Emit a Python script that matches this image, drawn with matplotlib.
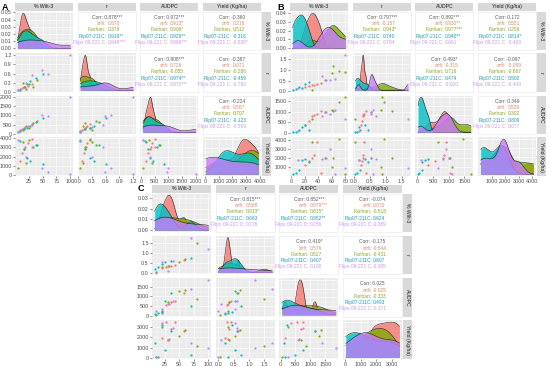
import numpy as np
import matplotlib
matplotlib.use("Agg")
import matplotlib.pyplot as plt

plt.rcParams['font.family'] = ['Liberation Sans', 'DejaVu Sans']

groups = ["arifi", "Fanhan", "Flip07-211C", "Flips 09-221 C"]
fill_colors = ['#F8766D', '#7CAE00', '#00BFC4', '#C77CFF']
text_colors = ['#D98C6A', '#8AA528', '#1A9CB0', '#C898EE']
var_names = ["% Wilt-3", "r", "AUDPC", "Yield (Kg/ha)"]
n_per_group = 6

# ---- panel A data (6 points per group, in group order) ----
A_wilt = [10, 13, 16, 19, 24, 30,   6, 14, 20, 26, 32, 40,
          10, 16, 22, 28, 38, 50,   5, 20, 30, 49, 60, 100]
A_r = [0.08, 0.12, 0.15, 0.17, 0.20, 0.26,   0.05, 0.30, 0.10, 0.25, 0.15, 0.40,
       0.05, 0.15, 0.25, 0.35, 0.45, 0.60,   0.05, 0.30, 0.55, 0.71, 0.58, 1.20]
A_audpc = [180, 260, 330, 360, 420, 520,   80, 200, 420, 300, 600, 700,
           150, 250, 320, 450, 650, 850,   80, 350, 500, 1000, 950, 2000]
A_yield = [1500, 2400, 2800, 3000, 3500, 3900,   700, 3600, 1300, 3800, 3100, 3300,
           3700, 2800, 1800, 1500, 3300, 1200,   3800, 1900, 3100, 700, 300, 50]
A_ticks = [[25, 50, 75, 100], [0.0, 0.3, 0.6, 0.9, 1.2],
           [0, 500, 1000, 1500, 2000], [0, 1000, 2000, 3000, 4000]]
A_tick_labels = [["25", "50", "75", "100"], ["0.0", "0.3", "0.6", "0.9", "1.2"],
                 ["0", "500", "1000", "1500", "2000"], ["0", "1000", "2000", "3000", "4000"]]
A_dens_ticks = [0.00, 0.01, 0.02, 0.03, 0.04, 0.05]
# pairs in order (1,2) (1,3) (1,4) (2,3) (2,4) (3,4)
A_corr_total = ["0.878***", "0.972***", "-0.360", "0.808***", "-0.367", "-0.224"]
A_corr_arifi = ["0.870", "0.913*", "0.218", "0.726", "0.071", "0.587"]
A_corr_fanhan = ["0.376", "0.906*", "0.512", "-0.055", "-0.286", "0.707"]
A_corr_flip07 = ["0.919**", "0.929**", "-0.316", "0.974**", "-0.459", "-0.123"]
A_corr_flips = ["0.948***", "0.986***", "-0.838*", "0.970***", "-0.792", "-0.569"]

# ---- panel B data ----
B_wilt = [20, 26, 30, 34, 38, 44,   30, 50, 60, 62, 70, 80,
          2, 7, 12, 16, 20, 26,   10, 45, 52, 58, 65, 80]
B_r = [0.22, 0.26, 0.30, 0.29, 0.33, 0.38,   0.05, 0.55, 0.85, 1.20, 0.95, 0.90,
       0.05, 0.10, 0.20, 0.15, 0.35, 0.45,   0.15, 0.70, 0.55, 0.55, 0.60, 1.70]
B_audpc = [350, 550, 800, 850, 900, 1050,   650, 1000, 1100, 1050, 1450, 1700,
           20, 50, 150, 250, 350, 150,   100, 800, 1000, 900, 1100, 650]
B_yield = [1200, 1700, 2000, 2400, 3800, 300,   3800, 2000, 1000, 2000, 4100, 200,
           200, 300, 700, 1800, 1900, 1600,   1800, 1900, 2000, 3000, 200, 900]
B_ticks = [[0, 20, 40, 60, 80], [0.0, 0.5, 1.0, 1.5],
           [0, 500, 1000, 1500], [0, 1000, 2000, 3000, 4000]]
B_tick_labels = [["0", "20", "40", "60", "80"], ["0.0", "0.5", "1.0", "1.5"],
                 ["0", "500", "1000", "1500"], ["0", "1000", "2000", "3000", "4000"]]
B_dens_ticks = [0.00, 0.01, 0.02, 0.03, 0.04]
B_corr_total = ["0.797***", "0.892***", "0.172", "0.493*", "-0.097", "0.349"]
B_corr_arifi = ["-0.157", "0.930**", "0.551", "-0.315", "-0.059", "0.539"]
B_corr_fanhan = ["0.943*", "0.977***", "0.256", "0.716", "-0.667", "0.302"]
B_corr_flip07 = ["0.740", "0.940**", "0.814*", "0.474", "0.502", "0.809"]
B_corr_flips = ["0.794", "0.661", "-0.463", "-0.020", "-0.443", "0.077"]

# ---- panel C data ----
C_wilt = [20, 27, 32, 36, 42, 58,   10, 20, 30, 50, 60, 80,
          8, 14, 20, 26, 36, 70,   10, 20, 30, 40, 70, 100]
C_r = [0.22, 0.28, 0.31, 0.34, 0.40, 0.65,   0.05, 0.30, 0.35, 0.55, 0.70, 1.50,
       0.20, 0.30, 0.45, 0.55, 0.60, 0.75,   0.00, 0.55, 0.10, 0.60, 1.75, 1.20]
C_audpc = [150, 560, 620, 700, 760, 1150,   50, 250, 700, 1300, 1350, 850,
           100, 150, 200, 750, 1150, 500,   250, 350, 600, 750, 1400, 1850]
C_yield = [1900, 3500, 1800, 2800, 3500, 2600,   100, 3000, 1700, 2100, 2700, 1100,
           1400, 100, 3200, 800, 2600, 300,   50, 3400, 1700, 2900, 1400, 950]
C_ticks = [[25, 50, 75, 100], [0.0, 0.5, 1.0, 1.5],
           [0, 500, 1000, 1500], [0, 1000, 2000, 3000]]
C_tick_labels = [["25", "50", "75", "100"], ["0.0", "0.5", "1.0", "1.5"],
                 ["0", "500", "1000", "1500"], ["0", "1000", "2000", "3000"]]
C_dens_ticks = [0.00, 0.01, 0.02, 0.03]
C_corr_total = ["0.815***", "0.852***", "-0.074", "0.419*", "-0.175", "0.025"]
C_corr_arifi = ["0.588", "0.979***", "0.070", "0.576", "-0.544", "-0.025"]
C_corr_fanhan = ["0.913*", "0.815*", "-0.518", "0.527", "-0.431", "-0.333"]
C_corr_flip07 = ["0.663", "0.952**", "0.624", "0.407", "0.607", "0.493"]
C_corr_flips = ["0.726", "0.756", "-0.389", "0.100", "-0.385", "-0.171"]

W, H = 550, 367
fig = plt.figure(figsize=(W / 100, H / 100), dpi=100)
fs_tick = 3.9
fs_strip = 3.7
fs_corr = 3.5


def px_axes(x, y, w, h):
    return fig.add_axes([x / W, 1 - (y + h) / H, w / W, h / H])


def kde(vals, grid):
    # gaussian kernel density, bandwidth like R's bw.nrd0
    vals = np.asarray(vals, float)
    n = len(vals)
    sd = vals.std(ddof=1)
    q75, q25 = np.percentile(vals, [75, 25])
    bw = 0.9 * min(sd, (q75 - q25) / 1.34) * n ** -0.2
    if bw <= 0:
        bw = 0.9 * sd * n ** -0.2
    z = (grid[:, None] - vals[None, :]) / bw
    return np.exp(-0.5 * z ** 2).sum(1) / (n * bw * np.sqrt(2 * np.pi))


def expand(lo, hi):
    d = (hi - lo) * 0.05
    return lo - d, hi + d


def gray_panel(ax, xticks, yticks):
    ax.set_facecolor('#EBEBEB')
    for s in ax.spines.values():
        s.set_visible(False)
    ax.set_xticks(xticks)
    ax.set_yticks(yticks)
    xm = np.array(xticks, float)
    ym = np.array(yticks, float)
    dx = xm[1] - xm[0]
    dy = ym[1] - ym[0]
    ax.set_xticks(np.concatenate([xm - dx / 2, [xm[-1] + dx / 2]]), minor=True)
    ax.set_yticks(np.concatenate([ym - dy / 2, [ym[-1] + dy / 2]]), minor=True)
    ax.grid(True, which='major', color='white', lw=0.5)
    ax.grid(True, which='minor', color='white', lw=0.25)
    ax.set_axisbelow(True)
    ax.tick_params(which='both', length=0, labelbottom=False, labelleft=False)


def draw_matrix(x0, y0, cw, ch, gx, gy, cols, ticks, tick_labels, dens_ticks, corr_lists):
    cols = [np.asarray(c, float) for c in cols]
    grp = np.repeat(np.arange(4), n_per_group)
    lims = [expand(c.min(), c.max()) for c in cols]
    pair_index = {(0, 1): 0, (0, 2): 1, (0, 3): 2, (1, 2): 3, (1, 3): 4, (2, 3): 5}
    right = x0 + 4 * cw + 3 * gx

    for i in range(4):
        for j in range(4):
            x = x0 + j * (cw + gx)
            y = y0 + i * (ch + gy)
            ax = px_axes(x, y, cw, ch)
            if i > j:
                gray_panel(ax, ticks[j], ticks[i])
                for g in range(4):
                    m = grp == g
                    ax.scatter(cols[j][m], cols[i][m], s=2.6, color=fill_colors[g], lw=0, zorder=3)
                ax.set_xlim(lims[j])
                ax.set_ylim(lims[i])
            elif i == j:
                grid = np.linspace(cols[j].min(), cols[j].max(), 300)
                dens = [kde(cols[j][grp == g], grid) for g in range(4)]
                top = max(d.max() for d in dens)
                if i == 0:
                    gray_panel(ax, ticks[j], dens_ticks)
                else:
                    gray_panel(ax, ticks[j], list(np.linspace(0, top, 5)))
                for g in range(4):
                    ax.fill_between(grid, 0, dens[g], color=fill_colors[g], alpha=0.8, lw=0, zorder=2 + g)
                    ax.plot(grid, dens[g], color='#222222', lw=0.4, zorder=2 + g)
                ax.set_xlim(lims[j])
                ax.set_ylim(-0.05 * top, 1.05 * top)
            else:
                ax.set_facecolor('white')
                for s in ax.spines.values():
                    s.set_color('#EBEBEB')
                    s.set_linewidth(0.5)
                ax.set_xticks([])
                ax.set_yticks([])
                k = pair_index[(i, j)]
                ax.text(0.5, 0.85, "Corr: " + corr_lists[0][k], ha='center', va='center',
                        fontsize=fs_corr, color='#5A5A5A', transform=ax.transAxes)
                for g in range(4):
                    yy = 0.68 - g * 0.16
                    ax.text(0.49, yy, groups[g] + ":", ha='right', va='center', fontsize=fs_corr,
                            color=text_colors[g], transform=ax.transAxes)
                    ax.text(0.51, yy, corr_lists[g + 1][k], ha='left', va='center', fontsize=fs_corr,
                            color=text_colors[g], transform=ax.transAxes)

            # axis labels on the outer edges only
            if j == 0:
                ax.tick_params(axis='y', which='major', labelleft=True, length=1.5, width=0.4,
                               color='#333333', labelsize=fs_tick, labelcolor='#4D4D4D', pad=0.8)
                if i == 0:
                    ax.set_yticklabels(["%.2f" % t for t in dens_ticks])
                else:
                    ax.set_yticklabels(tick_labels[i])
            if i == 3:
                ax.tick_params(axis='x', which='major', labelbottom=True, length=1.5, width=0.4,
                               color='#333333', labelsize=fs_tick, labelcolor='#4D4D4D', pad=0.8)
                ax.set_xticklabels(tick_labels[j])

        # right strip
        sy = y0 + i * (ch + gy)
        sax = px_axes(right + 1, sy, 9, ch)
        sax.set_facecolor('#D9D9D9')
        sax.set_xticks([])
        sax.set_yticks([])
        for s in sax.spines.values():
            s.set_visible(False)
        sax.text(0.5, 0.5, var_names[i], rotation=-90, ha='center', va='center',
                 fontsize=fs_strip, color='#1A1A1A', transform=sax.transAxes)

    # top strips
    for j in range(4):
        tax = px_axes(x0 + j * (cw + gx), y0 - 9, cw, 8.5)
        tax.set_facecolor('#D9D9D9')
        tax.set_xticks([])
        tax.set_yticks([])
        for s in tax.spines.values():
            s.set_visible(False)
        tax.text(0.5, 0.5, var_names[j], ha='center', va='center',
                 fontsize=fs_strip, color='#1A1A1A', transform=tax.transAxes)


draw_matrix(15, 11.5, 58, 38.5, 4.7, 3.5,
            [A_wilt, A_r, A_audpc, A_yield], A_ticks, A_tick_labels, A_dens_ticks,
            [A_corr_total, A_corr_arifi, A_corr_fanhan, A_corr_flip07, A_corr_flips])
draw_matrix(290, 11.5, 58, 38.5, 4.7, 3.5,
            [B_wilt, B_r, B_audpc, B_yield], B_ticks, B_tick_labels, B_dens_ticks,
            [B_corr_total, B_corr_arifi, B_corr_fanhan, B_corr_flip07, B_corr_flips])
draw_matrix(152, 193.5, 59, 38.5, 4.7, 3.8,
            [C_wilt, C_r, C_audpc, C_yield], C_ticks, C_tick_labels, C_dens_ticks,
            [C_corr_total, C_corr_arifi, C_corr_fanhan, C_corr_flip07, C_corr_flips])

fig.text(2 / W, 1 - 7 / H, "A", fontsize=6.5, fontweight='bold', va='center', ha='left')
fig.text(277 / W, 1 - 7 / H, "B", fontsize=6.5, fontweight='bold', va='center', ha='left')
fig.text(138 / W, 1 - 188.5 / H, "C", fontsize=6.5, fontweight='bold', va='center', ha='left')

fig.savefig("out.png", dpi=100)
